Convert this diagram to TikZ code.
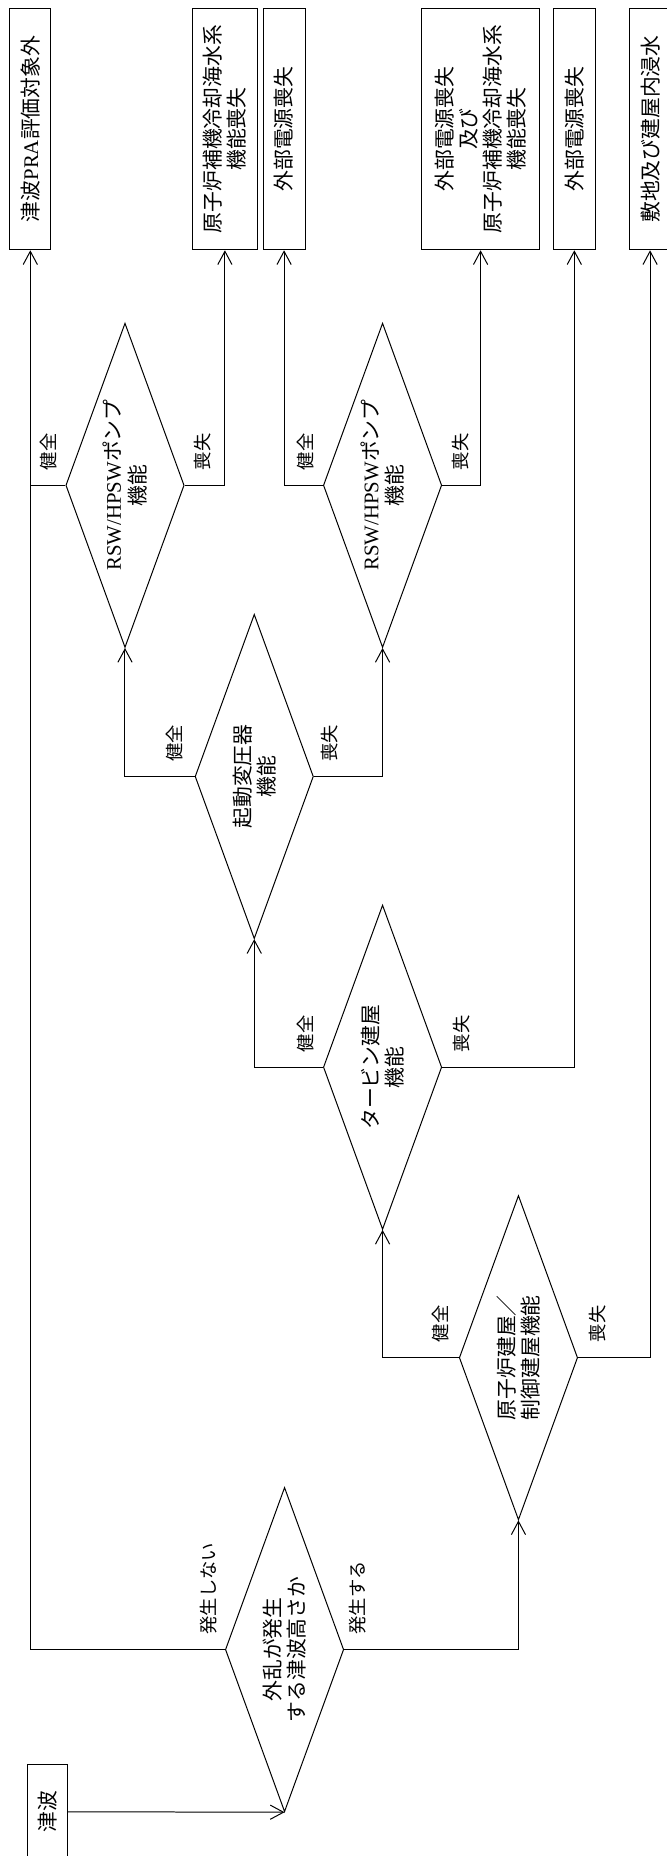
\documentclass[tikz,border=0pt]{standalone}
\usepackage{fontspec}
\setmainfont{Noto Sans CJK JP}
\newfontfamily\lat{Liberation Serif}
\usepackage{tikz}
\usetikzlibrary{shapes.geometric,arrows.meta}

\begin{document}
\begin{tikzpicture}[>={Straight Barb[length=2.8mm,width=3mm]}, line width=0.6pt,
  box/.style={draw, rotate=90, align=center, minimum width=5.1cm, inner sep=0pt,
    font=\fontsize{12.5pt}{14.5pt}\selectfont},
  dec/.style={draw, diamond, rotate=90, align=center, minimum width=6.85cm,
    minimum height=2.5cm, inner sep=0pt, shape aspect=2.74,
    font=\fontsize{12.5pt}{14.5pt}\selectfont},
  lbl/.style={rotate=90, anchor=west, inner sep=0pt,
    font=\fontsize{11pt}{12pt}\selectfont}]

\useasboundingbox (0,0) rectangle (14.075,-39.2);

% 終状態
\node[box, minimum height=0.86cm] (e1) at (0.64,-2.725) {津波{\lat PRA}評価対象外};
\node[box, minimum height=1.38cm] (e2) at (4.75,-2.725) {原子炉補機冷却海水系\\機能喪失};
\node[box, minimum height=0.89cm] (e3) at (6.0,-2.725) {外部電源喪失};
\node[box, minimum height=2.5cm] (e4) at (10.15,-2.725) {外部電源喪失\\及び\\原子炉補機冷却海水系\\機能喪失};
\node[box, minimum height=0.885cm] (e5) at (12.13,-2.725) {外部電源喪失};
\node[box, minimum height=0.86cm] (e6) at (13.73,-2.725) {敷地及び建屋内浸水};

% 分岐
\node[dec] (d1) at (2.64,-10.25) {{\lat RSW/HPSW}ポンプ\\機能};
\node[dec] (d2) at (8.08,-10.25) {{\lat RSW/HPSW}ポンプ\\機能};
\node[dec] (d3) at (5.37,-16.4) {起動変圧器\\機能};
\node[dec] (d4) at (8.08,-22.54) {タービン建屋\\機能};
\node[dec] (d5) at (10.95,-28.675) {原子炉建屋／\\制御建屋機能};
\node[dec] (d6) at (6.01,-34.84) {外乱が発生\\する津波高さか};

% 起因
\node[box, minimum width=2cm, minimum height=0.85cm] (s) at (1.0,-38.265) {津波};

% 津波
\draw[->] (s.south) -- (d6.west);
\draw[->] (d6.north) -| (e1.west);
\draw[->] (d6.south) -| (d5.west);
\node[lbl] at (4.4,-34.53) {発生しない};
\node[lbl] at (7.55,-34.53) {発生する};

% 建屋
\draw[->] (d5.north) -| (d4.west);
\draw[->] (d5.south) -| (e6.west);
\node[lbl] at (9.3,-28.36) {健全};
\node[lbl] at (12.63,-28.36) {喪失};

\draw[->] (d4.north) -| (d3.west);
\draw[->] (d4.south) -| (e5.west);
\node[lbl] at (6.45,-22.23) {健全};
\node[lbl] at (9.75,-22.23) {喪失};

% 起動変圧器
\draw[->] (d3.north) -| (d1.west);
\draw[->] (d3.south) -| (d2.west);
\node[lbl] at (3.68,-16.09) {健全};
\node[lbl] at (6.97,-16.09) {喪失};

% ポンプ
\draw (d1.north) -- (d1.north -| e1.west);
\draw[->] (d1.south) -| (e2.west);
\node[lbl] at (1.03,-9.94) {健全};
\node[lbl] at (4.27,-9.94) {喪失};

\draw[->] (d2.north) -| (e3.west);
\draw[->] (d2.south) -| (e4.west);
\node[lbl] at (6.45,-9.94) {健全};
\node[lbl] at (9.72,-9.94) {喪失};

\end{tikzpicture}
\end{document}
